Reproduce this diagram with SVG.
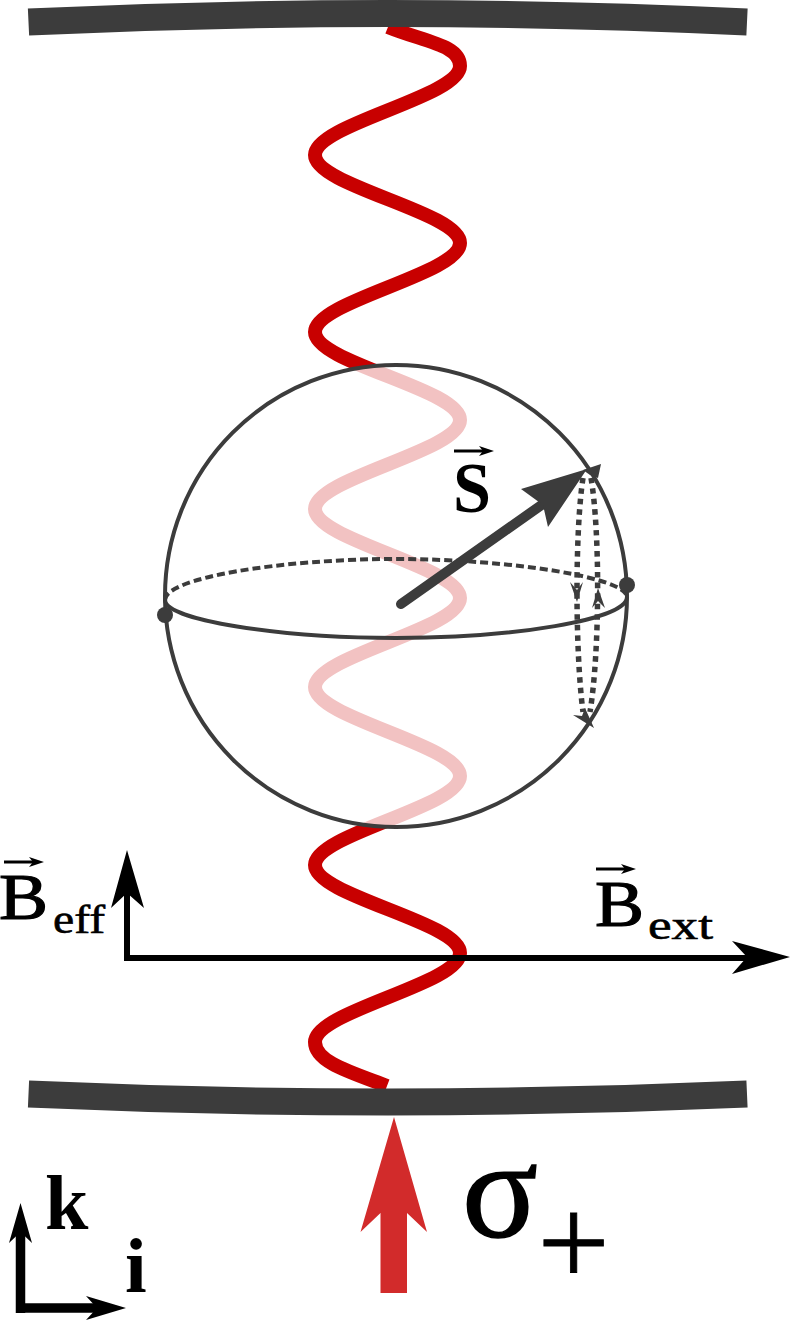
<svg xmlns="http://www.w3.org/2000/svg" width="790" height="1320" viewBox="0 0 790 1320">
<style>
.t{font-family:"Liberation Serif","DejaVu Serif",serif;fill:#000;stroke:#000;stroke-width:1.2}
.s{font-family:"Liberation Serif","DejaVu Serif",serif;fill:#000;stroke:#000;stroke-width:.6}
.wave{fill:none;stroke:#c80000;stroke-width:14}
.mirror{fill:none;stroke:#3c3c3c;stroke-width:27}
.k{fill:none;stroke:#000;stroke-width:6}
.k2{fill:none;stroke:#000;stroke-width:9.500}
.h{fill:#000}
.g{fill:#3c3c3c}
.dot{fill:none;stroke:#3c3c3c;stroke-width:5.500;stroke-dasharray:5.500 5}
</style>
<rect width="790" height="1320" fill="#fff"/>
<g id="wave"><path class="wave" d="M388 27C425 42 460 45 460 66C460 97 315 124 315 155C315 186 460 212 460 243C460 274 315 301 315 332C315 363 460 389 460 420C460 451 315 478 315 509C315 540 460 567 460 598C460 629 315 656 315 687C315 718 460 745 460 776C460 807 315 834 315 865C315 896 460 922 460 953C460 984 315 1011 315 1042C315 1062 350 1072 387 1086"/></g>
<g id="mirror-top"><path class="mirror" d="M28.500 22Q388 5 747 22"/></g>
<g id="mirror-bottom"><path class="mirror" d="M28.500 1094Q388 1110 747 1094"/></g>
<g id="sphere">
<circle cx="396" cy="596" r="231" fill="#fff" fill-opacity=".76" stroke="#3c3c3c" stroke-width="4"/>
<path d="M165 600C165 578 280 559 396 559C512 559 627 578 627 597" fill="none" stroke="#3c3c3c" stroke-width="4" stroke-dasharray="8 4"/>
<path d="M165 600C165 620 280 638 396 638C512 638 627 620 627 597" fill="none" stroke="#3c3c3c" stroke-width="4"/>
<circle class="g" cx="627" cy="585" r="8"/>
<circle class="g" cx="165" cy="615" r="8"/>
</g>
<g id="connectors">
<path id="precession-left" class="dot" d="M583 478C575 530 575 650 583 712"/>
<path id="precession-right" class="dot" d="M591 478C600 530 600 650 590 712"/>
<polygon class="g" points="601,464 583,470 590,475 598,478"/>
<polygon class="g" points="594,728 573,715 582,716 585,708"/>
<polygon class="g" points="577,602 570,582 577,590 583,582"/>
<polygon class="g" points="598,588 605,608 598,601 592,608"/>
<path id="spin-shaft" d="M401 604L550 499" fill="none" stroke="#3c3c3c" stroke-width="10" stroke-linecap="round"/>
<polygon id="spin-head" class="g" points="587,469 521,489 543,505 548,527"/>
<path id="b-ext-shaft" class="k" d="M127 958H750"/>
<polygon class="h" points="790,957 732,941 747,957 732,974"/>
<path id="b-eff-shaft" class="k" d="M127 961V890"/>
<polygon class="h" points="127,850 111,908 127,893 144,908"/>
<path id="k-shaft" class="k2" d="M20.500 1313V1228"/>
<polygon class="h" points="20.500,1203 9,1243 20.500,1232 32,1243"/>
<path id="i-shaft" class="k2" d="M16 1308H100"/>
<polygon class="h" points="126,1308 86,1296 97,1308 86,1320"/>
<polygon id="pump-arrow" fill="#d22b2b" points="394,1117 427,1232 407,1213 407,1293 380.500,1293 380.500,1213 360.500,1232"/>
<path class="k" style="stroke-width:3" d="M454 451H485"/><polygon class="h" points="494,451 479,446 483,451 479,456"/>
<path class="k" style="stroke-width:3" d="M4 862H35"/><polygon class="h" points="44,862 29,857 33,862 29,867"/>
<path class="k" style="stroke-width:3" d="M596 869H628"/><polygon class="h" points="636,869 621,864 625,869 621,874"/>
</g>
<g id="labels">
<text class="t" x="453" y="512" font-size="71" font-weight="bold" textLength="38" lengthAdjust="spacingAndGlyphs" style="stroke-width:0">S</text>
<text class="t" x="-1" y="919" font-size="66" textLength="49" lengthAdjust="spacingAndGlyphs">B</text>
<text class="s" x="53" y="933" font-size="40" textLength="52" lengthAdjust="spacingAndGlyphs">eff</text>
<text class="t" x="595" y="926" font-size="66" textLength="49" lengthAdjust="spacingAndGlyphs">B</text>
<text class="s" x="648" y="939" font-size="40" textLength="65" lengthAdjust="spacingAndGlyphs">ext</text>
<text class="t" x="45" y="1229" font-size="78" font-weight="bold" style="stroke-width:0">k</text>
<text class="t" x="125" y="1292" font-size="78" font-weight="bold" style="stroke-width:0">i</text>
<text class="t" x="462" y="1237" font-size="140" textLength="76" lengthAdjust="spacingAndGlyphs" style="stroke-width:1.500">σ</text>
<text class="t" x="537.500" y="1285" font-size="128" style="stroke-width:.8">+</text>
</g>
</svg>
